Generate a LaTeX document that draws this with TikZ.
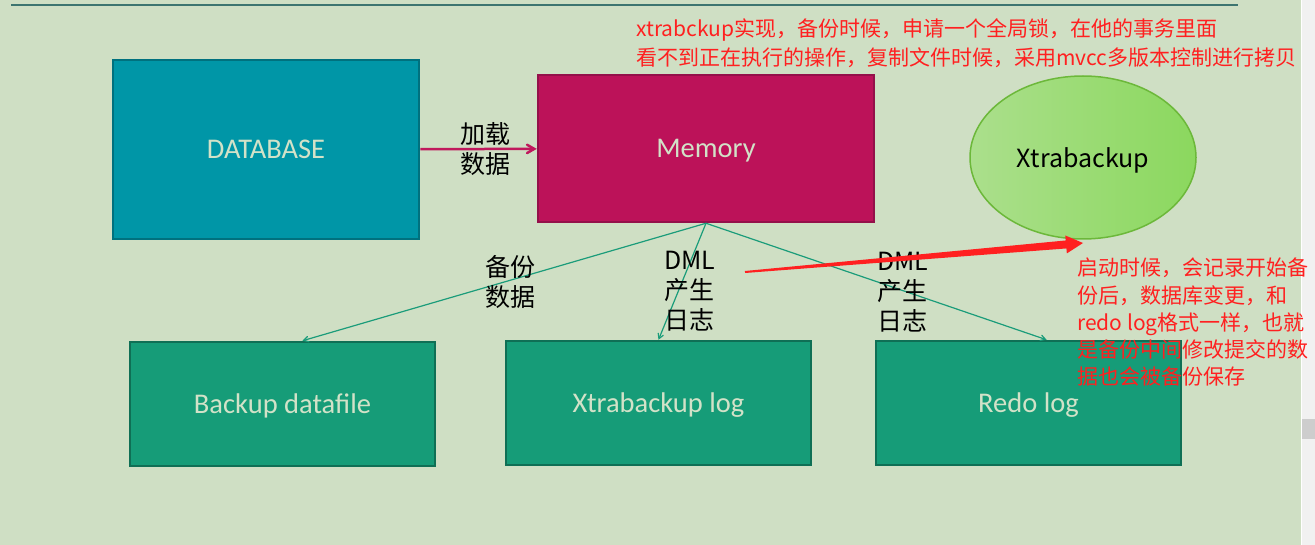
\documentclass[tikz,border=0pt]{standalone}
\usepackage{fontspec}
\setmainfont{Noto Sans CJK SC}
\newfontfamily\boxfont{Carlito}
\usetikzlibrary{arrows,calc,shapes.geometric}

\definecolor{pageGreen}{HTML}{CFDFC4}
\definecolor{barGray}{HTML}{F1F1F1}
\definecolor{thumbGray}{HTML}{CDCDCD}
\definecolor{ruleTeal}{HTML}{3D7570}
\definecolor{dbFill}{HTML}{0096A7}
\definecolor{dbLine}{HTML}{00717E}
\definecolor{memFill}{HTML}{BC1259}
\definecolor{memLine}{HTML}{94104A}
\definecolor{fileFill}{HTML}{169C78}
\definecolor{fileLine}{HTML}{0F6F55}
\definecolor{boxText}{HTML}{D2E2C8}
\definecolor{loadPink}{HTML}{C0185C}
\definecolor{linkGreen}{HTML}{1A9C7A}
\definecolor{noteRed}{HTML}{FF2020}
\definecolor{ovalLight}{HTML}{ABDF8C}
\definecolor{ovalDark}{HTML}{8BD85E}
\definecolor{ovalLine}{HTML}{6CB83A}

\begin{document}
\begin{tikzpicture}[x=1pt,y=-1pt,>=angle 60,
    box node/.style={rectangle,draw,line width=2.5pt,text=boxText,text depth=0pt,
      font=\boxfont\fontsize{28.5}{30}\selectfont},
    tag/.style={align=center,text=black,inner sep=0pt,yshift=-2pt,
      font=\fontsize{25}{30}\selectfont},
    note/.style={align=left,text=noteRed,inner sep=0pt,anchor=north west,
      font=\fontsize{21}{27.2}\selectfont},
    link/.style={->,draw=linkGreen,line width=1.2pt}]

  % page and scroll bar
  \useasboundingbox (0,0) rectangle (1315,545);
  \fill[pageGreen] (0,0) rectangle (1301,545);
  \fill[white] (1301,0) rectangle (1302,545);
  \fill[barGray] (1302,0) rectangle (1315,545);
  \fill[thumbGray] (1302,419) rectangle (1315,439);
  \draw[ruleTeal,line width=2.5pt] (11,5) -- (1238,5);

  \node[box node,fill=dbFill,draw=dbLine,minimum width=306pt,minimum height=179pt]
    (db) at (266,149.5) {DATABASE};
  \node[box node,fill=memFill,draw=memLine,minimum width=336pt,minimum height=147pt]
    (mem) at (706,148.5) {Memory};
  \node[ellipse,draw=ovalLine,line width=1.5pt,left color=ovalLight,right color=ovalDark,
    minimum width=226pt,minimum height=163pt,text depth=0pt,font=\fontsize{25}{30}\selectfont]
    (xtra) at (1083,157.5) {Xtrabackup};
  \node[box node,fill=fileFill,draw=fileLine,minimum width=305pt,minimum height=124pt]
    (bk) at (282.5,404) {Backup datafile};
  \node[box node,fill=fileFill,draw=fileLine,minimum width=305pt,minimum height=124pt]
    (xlog) at (658.5,403) {Xtrabackup log};
  \node[box node,fill=fileFill,draw=fileLine,minimum width=305pt,minimum height=124pt]
    (rlog) at (1028.5,403) {Redo log};

  \path
    (db) edge [->,draw=loadPink,line width=2.5pt]
         node [tag,xshift=7pt,yshift=2pt] {加载\\数据} (mem)
    (mem.south) edge [link] node [tag,pos=0.485] {备份\\数据} ([xshift=20pt]bk.north)
         edge [link] node [tag,pos=0.57,xshift=11pt] {DML\\产生\\日志} (xlog.north)
         edge [link] node [tag,pos=0.578] {DML\\产生\\日志} ([xshift=18pt]rlog.north);

  % red pointer
  \coordinate (redS) at (745,272);
  \coordinate (redT) at (1083,243);
  \coordinate (redB) at ($(redT)!17pt!(redS)$);
  \fill[noteRed] ($(redS)!1pt!90:(redT)$) -- ($(redB)!4pt!-90:(redS)$)
    -- ($(redB)!9pt!-90:(redS)$) -- (redT) -- ($(redB)!9pt!90:(redS)$)
    -- ($(redB)!4pt!90:(redS)$) -- ($(redS)!1pt!-90:(redT)$) -- cycle;

  \node[note,font=\fontsize{21}{29}\selectfont] (top) at (636,18)
    {xtrabckup实现，备份时候，申请一个全局锁，在他的事务里面\\
    看不到正在执行的操作，复制文件时候，采用mvcc多版本控制进行拷贝};
  \node[note] (side) at (1077,258) {启动时候，会记录开始备\\份后，数据库变更，和\\redo log格式一样，也就\\
    是备份中间修改提交的数\\据也会被备份保存};
\end{tikzpicture}
\end{document}
